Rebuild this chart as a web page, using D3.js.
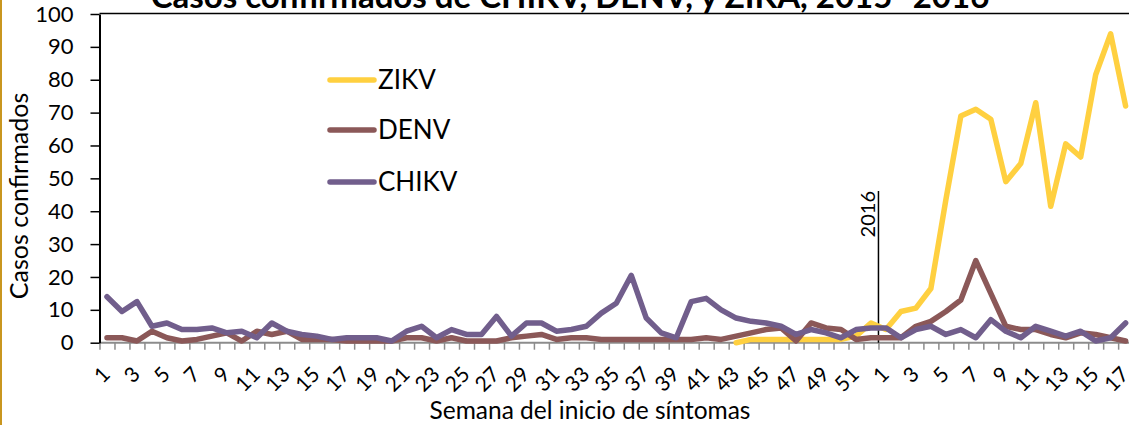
<!DOCTYPE html>
<html>
<head>
<meta charset="utf-8">
<script src="https://cdn.jsdelivr.net/npm/d3@7"></script>
<style>
  html, body { margin: 0; padding: 0; background: #fff; }
  svg { display: block; }
  text { font-family: Lato, "Open Sans", sans-serif; fill: #000; }
</style>
</head>
<body>
<svg id="chart" width="1129" height="425"></svg>
<script>
// ---- data ----
const weeks2015 = ["1","2","3","4","5","6","7","8","9","10","11","12","13","14","15","16","17","18","19","20","21","22","23","24","25","26","27","28","29","30","31","32","33","34","35","36","37","38","39","40","41","42","43","44","45","46","47","48","49","50","51","52"];
const weeks2016 = ["1","2","3","4","5","6","7","8","9","10","11","12","13","14","15","16","17"];
const categories = weeks2015.concat(weeks2016);

const zikv = [null,null,null,null,null,null,null,null,null,null,null,null,null,null,
  null,null,null,null,null,null,null,null,null,null,null,null,null,null,
  null,null,null,null,null,null,null,null,null,null,null,null,null,null,
  0,1,1,1,1,1,1,1,2,6,
  4,9.5,10.5,16.5,43.5,69,71,68,49,54.5,73,41.5,60.5,56.5,81.5,94,72];
const denv = [1.5,1.5,0.5,3.5,1.5,0.5,1,2,3,0.5,3.5,2.5,3.5,1,
  1,1,0.5,0.5,0.5,0.5,1.5,1.5,0.5,1.5,0.5,0.5,0.5,1.5,
  2,2.5,1,1.5,1.5,1,1,1,1,1,1,1,1.5,1,
  2,3,4,4.5,0.5,6,4.5,4,1,1.5,
  1.5,1.5,5,6.5,9.5,13,25,15,5,4,4,2.5,1.5,3,2.5,1.5,0.5];
const chikv = [14,9.5,12.5,5,6,4,4,4.5,3,3.5,1.5,6,3.5,2.5,
  2,1,1.5,1.5,1.5,0.5,3.5,5,1.5,4,2.5,2.5,8,2,
  6,6,3.5,4,5,9,12,20.5,7.5,3,1.5,12.5,13.5,10,
  7.5,6.5,6,5,2.5,4,3,1.5,4,4.5,
  4.5,1.5,4,5,2.5,4,1.5,7,3.5,1.5,5,3.5,2,3.5,0.5,1.5,6];
const yTicks = [0,10,20,30,40,50,60,70,80,90,100];
const seriesNames = ["ZIKV","DENV","CHIKV"];
const seriesColors = ["#FFD040","#8B5858","#715E8C"];
const title = "Casos confirmados de CHIKV, DENV, y ZIKA, 2015- 2016";
const xTitle = "Semana del inicio de síntomas";
const yTitle = "Casos confirmados";
const markerLabel = "2016";

// ---- layout ----
const svg = d3.select("#chart");
const plotLeft = 99.5, plotTop = 14, plotBottom = 342.7;
const step = 14.98;
const n = categories.length;
const plotRight = plotLeft + n * step;

const x = d3.scaleBand().domain(d3.range(n)).range([plotLeft, plotRight]).padding(0);
const xEdge = d3.scaleLinear().domain([0, n]).range([plotLeft, plotRight]);
const y = d3.scaleLinear().domain([0, 100]).range([plotBottom, plotTop]);

// left gold frame edge
svg.append("rect").attr("x", 0).attr("y", 0).attr("width", 2).attr("height", 425).attr("fill", "#C9961F");

// title (top part cut off by the frame, as in the reference)
svg.append("text").attr("x", 570).attr("y", 8).attr("text-anchor", "middle")
  .style("font-weight", "bold").style("font-size", "33px").text(title);

// top border
svg.append("line").attr("x1", plotLeft).attr("x2", 1129).attr("y1", plotTop - 0.5).attr("y2", plotTop - 0.5)
  .attr("stroke", "#000").attr("stroke-width", 1.5);

// x axis: boundary ticks
const gx = svg.append("g").attr("transform", `translate(0,${plotBottom})`)
  .call(d3.axisBottom(xEdge).tickValues(d3.range(n)).tickSize(7).tickSizeOuter(0).tickFormat(""));
gx.select(".domain").attr("stroke", "#8c8c8c").attr("stroke-width", 2).attr("d", `M${plotLeft},0H1129`);
gx.selectAll(".tick line").attr("stroke", "#8c8c8c").attr("stroke-width", 1.5);

// x labels (every other category), rotated
const gxl = svg.append("g").attr("transform", `translate(0,${plotBottom})`)
  .call(d3.axisBottom(x).tickValues(d3.range(0, n, 2)).tickSize(0).tickFormat(i => categories[i]));
gxl.select(".domain").remove();
gxl.selectAll(".tick text")
  .attr("text-anchor", "end")
  .attr("dy", null).attr("y", null)
  .attr("transform", "translate(4.5,33) rotate(-45)")
  .style("font-size", "21px").style("font-family", "Lato, sans-serif");

// y axis
const gy = svg.append("g").attr("transform", `translate(${plotLeft},0)`)
  .call(d3.axisLeft(y).tickValues(yTicks).tickSize(9).tickSizeOuter(0).tickPadding(17));
gy.select(".domain").attr("stroke", "#000").attr("stroke-width", 2);
gy.selectAll(".tick line").attr("stroke", "#000").attr("stroke-width", 1.5);
gy.selectAll(".tick text").style("font-size", "22px").style("font-family", "Lato, sans-serif");

// axis titles
svg.append("text").attr("x", 590).attr("y", 419).attr("text-anchor", "middle")
  .style("font-size", "24.5px").text(xTitle);
svg.append("text").attr("transform", "translate(28,196) rotate(-90)").attr("text-anchor", "middle")
  .style("font-size", "25px").text(yTitle);

// 2016 marker
svg.append("line").attr("x1", xEdge(52)).attr("x2", xEdge(52)).attr("y1", 191).attr("y2", plotBottom)
  .attr("stroke", "#000").attr("stroke-width", 1.5);
svg.append("text").attr("transform", `translate(${xEdge(52) - 3},191) rotate(-90)`).attr("text-anchor", "end")
  .style("font-size", "20px").text(markerLabel);

// lines
const line = d3.line()
  .defined(d => d != null)
  .x((d, i) => x(i) + x.bandwidth() / 2)
  .y(d => y(d));
[zikv, denv, chikv].forEach((s, k) => {
  svg.append("path").datum(s).attr("d", line)
    .attr("fill", "none").attr("stroke", seriesColors[k]).attr("stroke-width", 5.5)
    .attr("stroke-linejoin", "round").attr("stroke-linecap", "round");
});

// legend
const legY = [80, 130, 182];
seriesNames.forEach((nm, k) => {
  svg.append("line").attr("x1", 330).attr("x2", 374).attr("y1", legY[k]).attr("y2", legY[k])
    .attr("stroke", seriesColors[k]).attr("stroke-width", 5.5).attr("stroke-linecap", "round");
  svg.append("text").attr("x", 378).attr("y", legY[k]).attr("dy", "0.35em")
    .style("font-size", "26px").text(nm);
});
</script>
</body>
</html>
